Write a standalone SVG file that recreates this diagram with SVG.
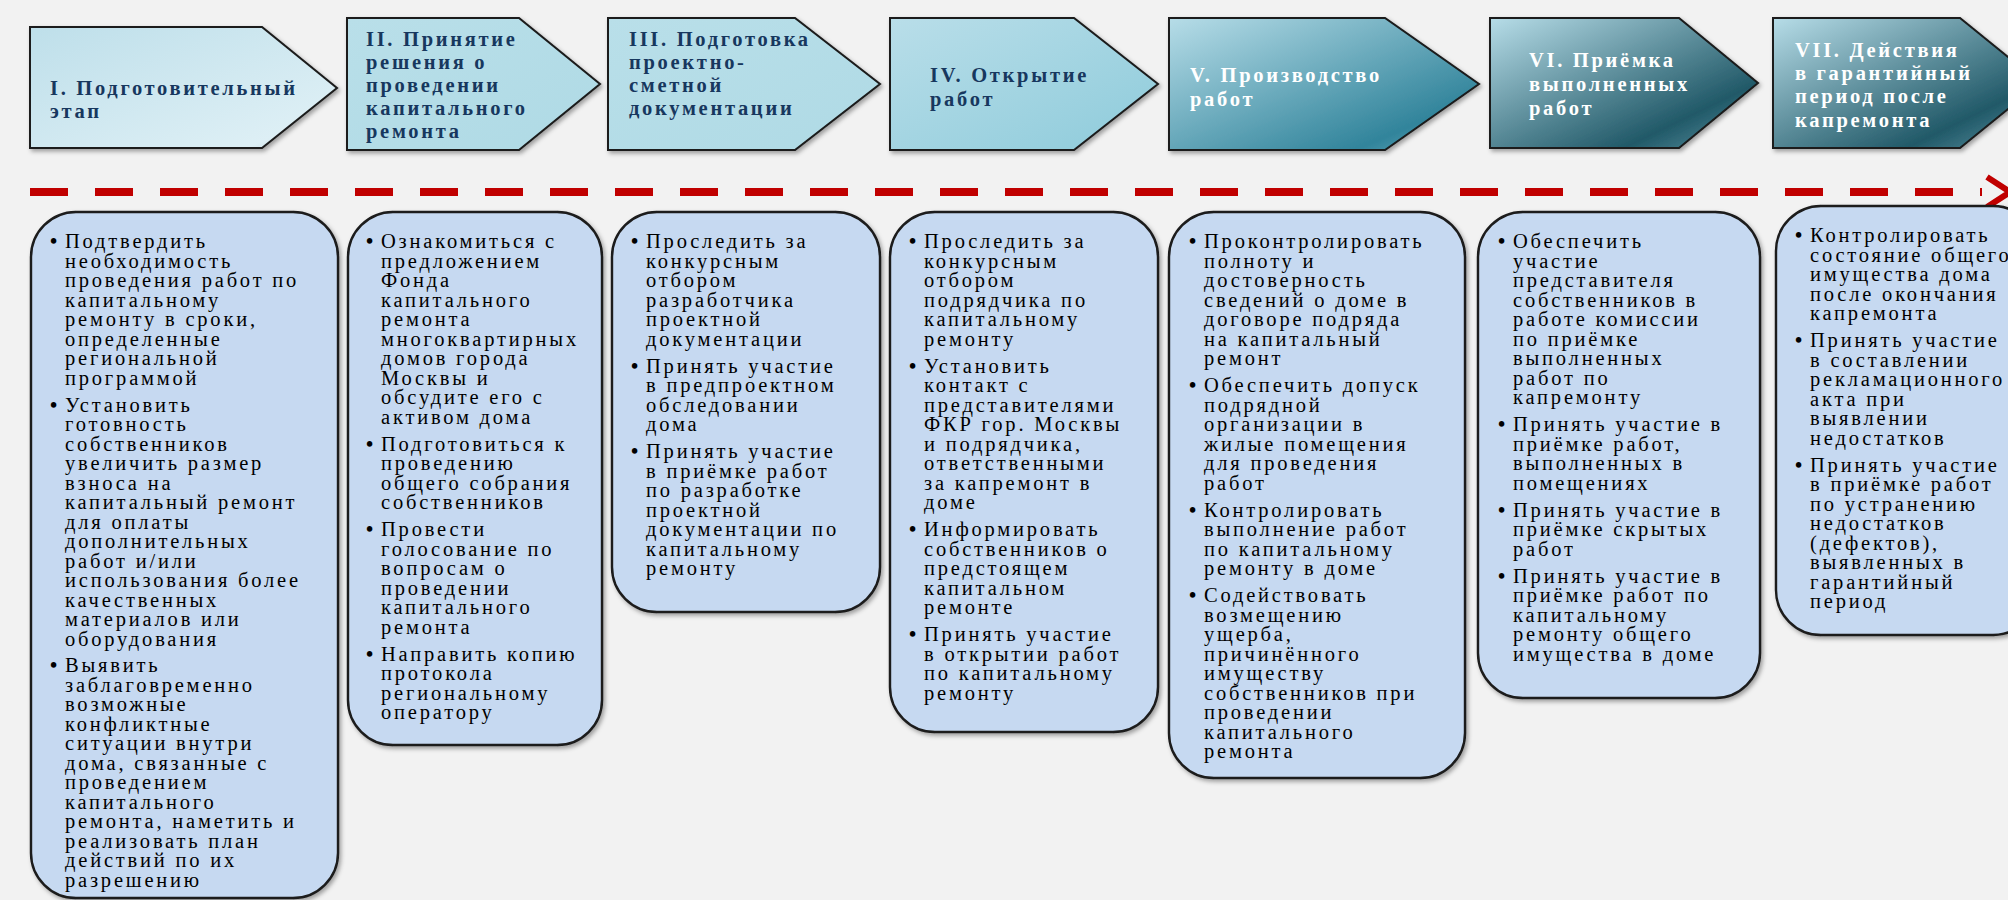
<svg xmlns="http://www.w3.org/2000/svg" width="2008" height="900" viewBox="0 0 2008 900">
<style>
.t{font-family:"Liberation Serif","Times New Roman",serif;font-weight:bold;font-size:20.5px;letter-spacing:2.7px;fill:#17375E}
.tw{fill:#FFFFFF}
.b{font-family:"Liberation Serif","Times New Roman",serif;font-size:20.5px;letter-spacing:2.8px;fill:#000000}
.d{font-family:"Liberation Serif","Times New Roman",serif;font-size:20.5px;font-weight:bold;fill:#000000}
.pent{stroke:#1a1a1a;stroke-width:2;filter:url(#sh)}
.box{fill:#C6D9F1;stroke:#1a1a1a;stroke-width:2.4;filter:url(#sh)}
</style>
<defs>
<filter id="sh" x="-10%" y="-10%" width="120%" height="120%">
<feDropShadow dx="2" dy="2.5" stdDeviation="2" flood-color="#000" flood-opacity="0.35"/>
</filter>
<linearGradient id="g1" x1="0" y1="0" x2="1" y2="1">
<stop offset="0" stop-color="#BEDFEA"/><stop offset="0.85" stop-color="#DDEFF5"/><stop offset="1" stop-color="#B9CDD3"/>
</linearGradient>
<linearGradient id="g2" x1="0" y1="0" x2="1" y2="1">
<stop offset="0" stop-color="#B9DFE9"/><stop offset="1" stop-color="#AFDAE5"/>
</linearGradient>
<linearGradient id="g4" x1="0" y1="0" x2="1" y2="1">
<stop offset="0" stop-color="#B9DEE9"/><stop offset="0.9" stop-color="#92CDDC"/><stop offset="1" stop-color="#B5D8E1"/>
</linearGradient>
<linearGradient id="g5" x1="0" y1="0" x2="1" y2="1">
<stop offset="0" stop-color="#B7DDE8"/><stop offset="0.8" stop-color="#31849B"/><stop offset="1" stop-color="#6FAFC0"/>
</linearGradient>
<linearGradient id="g6" x1="0" y1="0" x2="1" y2="1">
<stop offset="0" stop-color="#B7DDE8"/><stop offset="0.75" stop-color="#215968"/><stop offset="1" stop-color="#5E97A6"/>
</linearGradient>
</defs>
<rect x="0" y="0" width="2008" height="900" fill="#F2F2F2"/>

<g id="connectors">
<line x1="30" y1="192" x2="1982" y2="192" stroke="#C00000" stroke-width="8" stroke-dasharray="38 27"/>
<polyline points="1987,177 2010,192 1987,207" fill="none" stroke="#C00000" stroke-width="6"/>
</g>

<g id="stage1">
<polygon class="pent" fill="url(#g1)" points="30,27 262,27 337,88 262,148 30,148"/>
<text class="t" x="50" y="95">I. Подготовительный</text>
<text class="t" x="50" y="118">этап</text>
</g>
<g id="stage2">
<polygon class="pent" fill="url(#g2)" points="347,18 519,18 600,84 519,150 347,150"/>
<text class="t" x="366" y="46">II. Принятие<tspan x="366" dy="23">решения о</tspan><tspan x="366" dy="23">проведении</tspan><tspan x="366" dy="23">капитального</tspan><tspan x="366" dy="23">ремонта</tspan></text>
</g>
<g id="stage3">
<polygon class="pent" fill="url(#g2)" points="608,18 795,18 880,84 795,150 608,150"/>
<text class="t" x="629" y="46">III. Подготовка<tspan x="629" dy="23">проектно-</tspan><tspan x="629" dy="23">сметной</tspan><tspan x="629" dy="23">документации</tspan></text>
</g>
<g id="stage4">
<polygon class="pent" fill="url(#g4)" points="890,18 1074,18 1158,84 1074,150 890,150"/>
<text class="t" x="930" y="82">IV. Открытие<tspan x="930" dy="24">работ</tspan></text>
</g>
<g id="stage5">
<polygon class="pent" fill="url(#g5)" points="1169,18 1385,18 1479,84 1385,150 1169,150"/>
<text class="t tw" x="1190" y="82">V. Производство<tspan x="1190" dy="24">работ</tspan></text>
</g>
<g id="stage6">
<polygon class="pent" fill="url(#g6)" points="1490,18 1679,18 1758,83 1679,148 1490,148"/>
<text class="t tw" x="1529" y="67">VI. Приёмка<tspan x="1529" dy="24">выполненных</tspan><tspan x="1529" dy="24">работ</tspan></text>
</g>
<g id="stage7">
<polygon class="pent" fill="url(#g6)" points="1773,18 1960,18 2040,83 1960,148 1773,148"/>
<text class="t tw" x="1795" y="57">VII. Действия<tspan x="1795" dy="23">в гарантийный</tspan><tspan x="1795" dy="23">период  после</tspan><tspan x="1795" dy="24">капремонта</tspan></text>
</g>

<g id="tasks1">
<rect class="box" x="31" y="212" width="307" height="686" rx="45" ry="45"/>
<text class="d" x="50" y="248">•</text>
<text class="b" x="65" y="248">Подтвердить<tspan x="65" dy="19.5">необходимость</tspan><tspan x="65" dy="19.5">проведения работ по</tspan><tspan x="65" dy="19.5">капитальному</tspan><tspan x="65" dy="19.5">ремонту в сроки,</tspan><tspan x="65" dy="19.5">определенные</tspan><tspan x="65" dy="19.5">региональной</tspan><tspan x="65" dy="19.5">программой</tspan></text>
<text class="d" x="50" y="411.5">•</text>
<text class="b" x="65" y="411.5">Установить<tspan x="65" dy="19.5">готовность</tspan><tspan x="65" dy="19.5">собственников</tspan><tspan x="65" dy="19.5">увеличить размер</tspan><tspan x="65" dy="19.5">взноса на</tspan><tspan x="65" dy="19.5">капитальный ремонт</tspan><tspan x="65" dy="19.5">для оплаты</tspan><tspan x="65" dy="19.5">дополнительных</tspan><tspan x="65" dy="19.5">работ и/или</tspan><tspan x="65" dy="19.5">использования более</tspan><tspan x="65" dy="19.5">качественных</tspan><tspan x="65" dy="19.5">материалов или</tspan><tspan x="65" dy="19.5">оборудования</tspan></text>
<text class="d" x="50" y="672">•</text>
<text class="b" x="65" y="672">Выявить<tspan x="65" dy="19.5">заблаговременно</tspan><tspan x="65" dy="19.5">возможные</tspan><tspan x="65" dy="19.5">конфликтные</tspan><tspan x="65" dy="19.5">ситуации внутри</tspan><tspan x="65" dy="19.5">дома, связанные с</tspan><tspan x="65" dy="19.5">проведением</tspan><tspan x="65" dy="19.5">капитального</tspan><tspan x="65" dy="19.5">ремонта, наметить и</tspan><tspan x="65" dy="19.5">реализовать план</tspan><tspan x="65" dy="19.5">действий по их</tspan><tspan x="65" dy="19.5">разрешению</tspan></text>
</g>

<g id="tasks2">
<rect class="box" x="348" y="212" width="254" height="533" rx="45" ry="45"/>
<text class="d" x="366" y="248">•</text>
<text class="b" x="381" y="248">Ознакомиться с<tspan x="381" dy="19.5">предложением</tspan><tspan x="381" dy="19.5">Фонда</tspan><tspan x="381" dy="19.5">капитального</tspan><tspan x="381" dy="19.5">ремонта</tspan><tspan x="381" dy="19.5">многоквартирных</tspan><tspan x="381" dy="19.5">домов города</tspan><tspan x="381" dy="19.5">Москвы и</tspan><tspan x="381" dy="19.5">обсудите его с</tspan><tspan x="381" dy="19.5">активом дома</tspan></text>
<text class="d" x="366" y="450.5">•</text>
<text class="b" x="381" y="450.5">Подготовиться к<tspan x="381" dy="19.5">проведению</tspan><tspan x="381" dy="19.5">общего собрания</tspan><tspan x="381" dy="19.5">собственников</tspan></text>
<text class="d" x="366" y="536">•</text>
<text class="b" x="381" y="536">Провести<tspan x="381" dy="19.5">голосование по</tspan><tspan x="381" dy="19.5">вопросам о</tspan><tspan x="381" dy="19.5">проведении</tspan><tspan x="381" dy="19.5">капитального</tspan><tspan x="381" dy="19.5">ремонта</tspan></text>
<text class="d" x="366" y="660.5">•</text>
<text class="b" x="381" y="660.5">Направить копию<tspan x="381" dy="19.5">протокола</tspan><tspan x="381" dy="19.5">региональному</tspan><tspan x="381" dy="19.5">оператору</tspan></text>
</g>

<g id="tasks3">
<rect class="box" x="612" y="212" width="268" height="400" rx="45" ry="45"/>
<text class="d" x="631" y="248">•</text>
<text class="b" x="646" y="248">Проследить за<tspan x="646" dy="19.5">конкурсным</tspan><tspan x="646" dy="19.5">отбором</tspan><tspan x="646" dy="19.5">разработчика</tspan><tspan x="646" dy="19.5">проектной</tspan><tspan x="646" dy="19.5">документации</tspan></text>
<text class="d" x="631" y="372.5">•</text>
<text class="b" x="646" y="372.5">Принять участие<tspan x="646" dy="19.5">в предпроектном</tspan><tspan x="646" dy="19.5">обследовании</tspan><tspan x="646" dy="19.5">дома</tspan></text>
<text class="d" x="631" y="458">•</text>
<text class="b" x="646" y="458">Принять участие<tspan x="646" dy="19.5">в приёмке работ</tspan><tspan x="646" dy="19.5">по разработке</tspan><tspan x="646" dy="19.5">проектной</tspan><tspan x="646" dy="19.5">документации по</tspan><tspan x="646" dy="19.5">капитальному</tspan><tspan x="646" dy="19.5">ремонту</tspan></text>
</g>

<g id="tasks4">
<rect class="box" x="890" y="212" width="268" height="520" rx="45" ry="45"/>
<text class="d" x="909" y="248">•</text>
<text class="b" x="924" y="248">Проследить за<tspan x="924" dy="19.5">конкурсным</tspan><tspan x="924" dy="19.5">отбором</tspan><tspan x="924" dy="19.5">подрядчика по</tspan><tspan x="924" dy="19.5">капитальному</tspan><tspan x="924" dy="19.5">ремонту</tspan></text>
<text class="d" x="909" y="372.5">•</text>
<text class="b" x="924" y="372.5">Установить<tspan x="924" dy="19.5">контакт с</tspan><tspan x="924" dy="19.5">представителями</tspan><tspan x="924" dy="19.5">ФКР гор. Москвы</tspan><tspan x="924" dy="19.5">и подрядчика,</tspan><tspan x="924" dy="19.5">ответственными</tspan><tspan x="924" dy="19.5">за капремонт в</tspan><tspan x="924" dy="19.5">доме</tspan></text>
<text class="d" x="909" y="536">•</text>
<text class="b" x="924" y="536">Информировать<tspan x="924" dy="19.5">собственников о</tspan><tspan x="924" dy="19.5">предстоящем</tspan><tspan x="924" dy="19.5">капитальном</tspan><tspan x="924" dy="19.5">ремонте</tspan></text>
<text class="d" x="909" y="641">•</text>
<text class="b" x="924" y="641">Принять участие<tspan x="924" dy="19.5">в открытии работ</tspan><tspan x="924" dy="19.5">по капитальному</tspan><tspan x="924" dy="19.5">ремонту</tspan></text>
</g>

<g id="tasks5">
<rect class="box" x="1169" y="212" width="296" height="566" rx="45" ry="45"/>
<text class="d" x="1189" y="248">•</text>
<text class="b" x="1204" y="248">Проконтролировать<tspan x="1204" dy="19.5">полноту и</tspan><tspan x="1204" dy="19.5">достоверность</tspan><tspan x="1204" dy="19.5">сведений о доме в</tspan><tspan x="1204" dy="19.5">договоре подряда</tspan><tspan x="1204" dy="19.5">на  капитальный</tspan><tspan x="1204" dy="19.5">ремонт</tspan></text>
<text class="d" x="1189" y="392">•</text>
<text class="b" x="1204" y="392">Обеспечить допуск<tspan x="1204" dy="19.5">подрядной</tspan><tspan x="1204" dy="19.5">организации в</tspan><tspan x="1204" dy="19.5">жилые помещения</tspan><tspan x="1204" dy="19.5">для проведения</tspan><tspan x="1204" dy="19.5">работ</tspan></text>
<text class="d" x="1189" y="516.5">•</text>
<text class="b" x="1204" y="516.5">Контролировать<tspan x="1204" dy="19.5">выполнение работ</tspan><tspan x="1204" dy="19.5">по капитальному</tspan><tspan x="1204" dy="19.5">ремонту в доме</tspan></text>
<text class="d" x="1189" y="602">•</text>
<text class="b" x="1204" y="602">Содействовать<tspan x="1204" dy="19.5">возмещению</tspan><tspan x="1204" dy="19.5">ущерба,</tspan><tspan x="1204" dy="19.5">причинённого</tspan><tspan x="1204" dy="19.5">имуществу</tspan><tspan x="1204" dy="19.5">собственников при</tspan><tspan x="1204" dy="19.5">проведении</tspan><tspan x="1204" dy="19.5">капитального</tspan><tspan x="1204" dy="19.5">ремонта</tspan></text>
</g>

<g id="tasks6">
<rect class="box" x="1478" y="212" width="282" height="486" rx="45" ry="45"/>
<text class="d" x="1498" y="248">•</text>
<text class="b" x="1513" y="248">Обеспечить<tspan x="1513" dy="19.5">участие</tspan><tspan x="1513" dy="19.5">представителя</tspan><tspan x="1513" dy="19.5">собственников в</tspan><tspan x="1513" dy="19.5">работе комиссии</tspan><tspan x="1513" dy="19.5">по приёмке</tspan><tspan x="1513" dy="19.5">выполненных</tspan><tspan x="1513" dy="19.5">работ по</tspan><tspan x="1513" dy="19.5">капремонту</tspan></text>
<text class="d" x="1498" y="431">•</text>
<text class="b" x="1513" y="431">Принять участие в<tspan x="1513" dy="19.5">приёмке работ,</tspan><tspan x="1513" dy="19.5">выполненных в</tspan><tspan x="1513" dy="19.5">помещениях</tspan></text>
<text class="d" x="1498" y="516.5">•</text>
<text class="b" x="1513" y="516.5">Принять участие в<tspan x="1513" dy="19.5">приёмке скрытых</tspan><tspan x="1513" dy="19.5">работ</tspan></text>
<text class="d" x="1498" y="582.5">•</text>
<text class="b" x="1513" y="582.5">Принять участие в<tspan x="1513" dy="19.5">приёмке работ по</tspan><tspan x="1513" dy="19.5">капитальному</tspan><tspan x="1513" dy="19.5">ремонту общего</tspan><tspan x="1513" dy="19.5">имущества в доме</tspan></text>
</g>

<g id="tasks7">
<rect class="box" x="1776" y="206" width="262" height="429" rx="45" ry="45"/>
<text class="d" x="1795" y="242">•</text>
<text class="b" x="1810" y="242">Контролировать<tspan x="1810" dy="19.5">состояние общего</tspan><tspan x="1810" dy="19.5">имущества дома</tspan><tspan x="1810" dy="19.5">после окончания</tspan><tspan x="1810" dy="19.5">капремонта</tspan></text>
<text class="d" x="1795" y="347">•</text>
<text class="b" x="1810" y="347">Принять участие<tspan x="1810" dy="19.5">в составлении</tspan><tspan x="1810" dy="19.5">рекламационного</tspan><tspan x="1810" dy="19.5">акта при</tspan><tspan x="1810" dy="19.5">выявлении</tspan><tspan x="1810" dy="19.5">недостатков</tspan></text>
<text class="d" x="1795" y="471.5">•</text>
<text class="b" x="1810" y="471.5">Принять участие<tspan x="1810" dy="19.5">в приёмке работ</tspan><tspan x="1810" dy="19.5">по устранению</tspan><tspan x="1810" dy="19.5">недостатков</tspan><tspan x="1810" dy="19.5">(дефектов),</tspan><tspan x="1810" dy="19.5">выявленных в</tspan><tspan x="1810" dy="19.5">гарантийный</tspan><tspan x="1810" dy="19.5">период</tspan></text>
</g>
</svg>
